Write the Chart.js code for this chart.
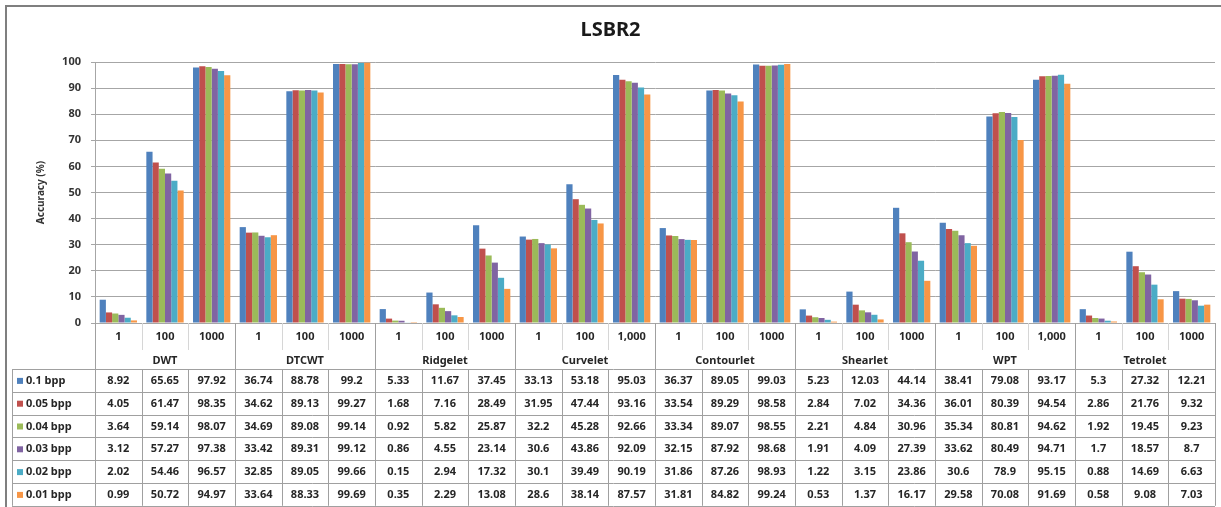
<!DOCTYPE html>
<html>
<head>
<meta charset="utf-8">
<script src="https://cdn.jsdelivr.net/npm/chart.js@4"></script>
<style>
  body { margin: 0; background: #fff; }
  canvas { display: block; }
</style>
</head>
<body>
<canvas id="chart" width="1221" height="507"></canvas>
<script>
var groups = ["DWT", "DTCWT", "Ridgelet", "Curvelet", "Contourlet", "Shearlet", "WPT", "Tetrolet"];
var levels = [
  "1", "100", "1000", "1", "100", "1000", "1", "100", "1000", "1", "100", "1,000",
  "1", "100", "1000", "1", "100", "1000", "1", "100", "1,000", "1", "100", "1000"
];
var seriesNames = ["0.1 bpp", "0.05 bpp", "0.04 bpp", "0.03 bpp", "0.02 bpp", "0.01 bpp"];

var bpp01 = [8.92, 65.65, 97.92, 36.74, 88.78, 99.2, 5.33, 11.67, 37.45, 33.13, 53.18, 95.03, 36.37, 89.05, 99.03, 5.23, 12.03, 44.14, 38.41, 79.08, 93.17, 5.3, 27.32, 12.21];
var bpp005 = [4.05, 61.47, 98.35, 34.62, 89.13, 99.27, 1.68, 7.16, 28.49, 31.95, 47.44, 93.16, 33.54, 89.29, 98.58, 2.84, 7.02, 34.36, 36.01, 80.39, 94.54, 2.86, 21.76, 9.32];
var bpp004 = [3.64, 59.14, 98.07, 34.69, 89.08, 99.14, 0.92, 5.82, 25.87, 32.2, 45.28, 92.66, 33.34, 89.07, 98.55, 2.21, 4.84, 30.96, 35.34, 80.81, 94.62, 1.92, 19.45, 9.23];
var bpp003 = [3.12, 57.27, 97.38, 33.42, 89.31, 99.12, 0.86, 4.55, 23.14, 30.6, 43.86, 92.09, 32.15, 87.92, 98.68, 1.91, 4.09, 27.39, 33.62, 80.49, 94.71, 1.7, 18.57, 8.7];
var bpp002 = [2.02, 54.46, 96.57, 32.85, 89.05, 99.66, 0.15, 2.94, 17.32, 30.1, 39.49, 90.19, 31.86, 87.26, 98.93, 1.22, 3.15, 23.86, 30.6, 78.9, 95.15, 0.88, 14.69, 6.63];
var bpp001 = [0.99, 50.72, 94.97, 33.64, 88.33, 99.69, 0.35, 2.29, 13.08, 28.6, 38.14, 87.57, 31.81, 84.82, 99.24, 0.53, 1.37, 16.17, 29.58, 70.08, 91.69, 0.58, 9.08, 7.03];

var colors = ["#4F81BD", "#C0504D", "#9BBB59", "#8064A2", "#4BACC6", "#F79646"];
var allSeries = [bpp01, bpp005, bpp004, bpp003, bpp002, bpp001];

var FONT = "'Noto Sans', 'DejaVu Sans', sans-serif";

// draws the excel-like data table under the plot, aligned to the x scale
var dataTable = {
  id: "dataTable",
  afterDraw: function (chart) {
    var ctx = chart.ctx;
    var area = chart.chartArea;
    var xs = chart.scales.x;
    var n = levels.length;
    var cw = (area.right - area.left) / n;
    var top = area.bottom;
    var grpTop = top + 27;
    var rowsTop = top + 46;
    var rowH = 22.8;
    var bottom = rowsTop + rowH * 6;
    var leftCol = 12;

    ctx.save();
    ctx.lineWidth = 1;

    // header separators between levels
    ctx.strokeStyle = "#d6d6d6";
    for (var i = 1; i < n; i++) {
      if (i % 3 === 0) continue;
      var lx = Math.round(area.left + i * cw) + 0.5;
      ctx.beginPath();
      ctx.moveTo(lx, top);
      ctx.lineTo(lx, grpTop);
      ctx.stroke();
    }

    // grid lines of the table
    ctx.strokeStyle = "#a0a0a0";
    for (var i = 0; i <= n; i++) {
      var lx = Math.round(area.left + i * cw) + 0.5;
      ctx.beginPath();
      ctx.moveTo(lx, i % 3 === 0 ? top : rowsTop);
      ctx.lineTo(lx, bottom);
      ctx.stroke();
    }
    ctx.beginPath();
    ctx.moveTo(leftCol + 0.5, rowsTop);
    ctx.lineTo(leftCol + 0.5, bottom);
    ctx.stroke();
    for (var r = 0; r <= 6; r++) {
      var ly = Math.round(rowsTop + r * rowH) + 0.5;
      ctx.beginPath();
      ctx.moveTo(leftCol, ly);
      ctx.lineTo(area.right, ly);
      ctx.stroke();
    }

    ctx.fillStyle = "#262626";
    ctx.textAlign = "center";
    ctx.textBaseline = "middle";
    ctx.font = "bold 11px " + FONT;
    for (var i = 0; i < n; i++) {
      ctx.fillText(levels[i], xs.getPixelForValue(i), top + 14);
    }
    for (var g = 0; g < groups.length; g++) {
      var gx = (xs.getPixelForValue(g * 3) + xs.getPixelForValue(g * 3 + 2)) / 2;
      ctx.fillText(groups[g], gx, grpTop + 11);
    }

    for (var s = 0; s < allSeries.length; s++) {
      var cy = rowsTop + s * rowH + rowH / 2 + 0.5;
      ctx.fillStyle = colors[s];
      ctx.fillRect(leftCol + 5, cy - 3, 6, 6);
      ctx.fillStyle = "#262626";
      ctx.textAlign = "left";
      ctx.fillText(seriesNames[s], leftCol + 14, cy);
      ctx.textAlign = "center";
      for (var i = 0; i < n; i++) {
        ctx.fillText(String(allSeries[s][i]), xs.getPixelForValue(i), cy);
      }
    }

    // chart frame
    ctx.strokeStyle = "#7f7f7f";
    ctx.lineWidth = 2;
    ctx.beginPath();
    ctx.moveTo(6, chart.height);
    ctx.lineTo(6, 6);
    ctx.lineTo(chart.width, 6);
    ctx.stroke();
    ctx.restore();
  },
};

var datasets = allSeries.map(function (vals, k) {
  return {
    label: seriesNames[k],
    data: vals,
    backgroundColor: colors[k],
    borderWidth: 0,
    categoryPercentage: 0.8,
    barPercentage: 1.0,
  };
});

new Chart(document.getElementById("chart"), {
  type: "bar",
  data: { labels: levels, datasets: datasets },
  plugins: [dataTable],
  options: {
    responsive: false,
    animation: false,
    layout: { padding: { left: 6, right: 6, top: 8, bottom: 184 } },
    plugins: {
      legend: { display: false },
      tooltip: { enabled: false },
      title: {
        display: true,
        text: "LSBR2",
        color: "#1a1a1a",
        font: { family: FONT, size: 20, weight: "bold" },
        padding: { top: 10, bottom: 20 },
      },
    },
    scales: {
      x: { display: false },
      y: {
        min: 0,
        max: 100,
        ticks: {
          stepSize: 10,
          color: "#333",
          padding: 10,
          font: { family: FONT, size: 11, weight: "bold" },
        },
        grid: { color: "#a6a6a6", tickLength: 4 },
        border: { color: "#a6a6a6" },
        title: {
          display: true,
          text: "Accuracy (%)",
          color: "#333",
          font: { family: FONT, size: 10, weight: "bold" },
          padding: { top: 29, bottom: 0 },
        },
        afterFit: function (scale) {
          scale.width = 89;
        },
      },
    },
  },
});
</script>
</body>
</html>
